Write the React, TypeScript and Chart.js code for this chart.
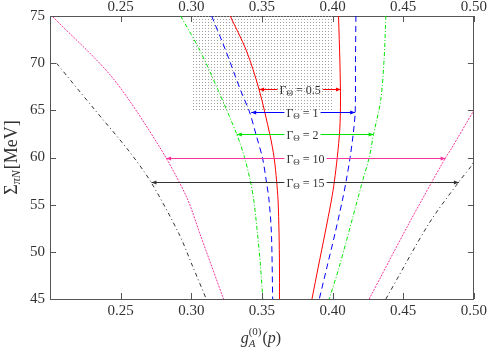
import React, { useEffect, useRef } from 'react';
import { Chart, registerables } from 'chart.js';

Chart.register(...registerables);

// ---------- axis ranges / ticks ----------
const xMin = 0.2;
const xMax = 0.5;
const xStep = 0.05;
const yMin = 45;
const yMax = 75;
const yStep = 5;

// ---------- shaded (dotted) region ----------
const regionX = [0.3, 0.4];
const regionYLow = 65;

// ---------- curves (pairs of bounds for each Γ_Θ) ----------
const redLeftX = [0.3275, 0.3388, 0.348, 0.3558, 0.3586, 0.3604, 0.3614, 0.3621, 0.3624, 0.3624];
const redLeftY = [75, 71.4, 67.2, 62.3, 60, 57.5, 55.5, 52, 48.5, 45];
const redRightX = [0.4042, 0.4052, 0.4056, 0.4051, 0.4033, 0.4013, 0.3992, 0.3947, 0.39, 0.3854];
const redRightY = [75, 70, 66, 63, 60, 57.5, 55.5, 52, 48.5, 45];

const blueLeftX = [0.3144, 0.3242, 0.3348, 0.3412, 0.3461, 0.3504, 0.3532, 0.355, 0.3567, 0.3576];
const blueLeftY = [75, 71.4, 67.16, 64.83, 62.28, 59.95, 57.4, 55.5, 52, 45];
const blueRightX = [0.4165, 0.4162, 0.416, 0.4146, 0.4124, 0.4096, 0.407, 0.4018, 0.3962, 0.3906];
const blueRightY = [75, 70, 64.8, 62.5, 60, 57.5, 55.5, 52, 48.5, 45];

const greenLeftX = [0.2925, 0.3059, 0.3188, 0.3322, 0.3377, 0.3418, 0.3442, 0.3468, 0.349, 0.3506];
const greenLeftY = [75, 71.4, 67.2, 62.45, 60, 57.5, 55.5, 52, 48.5, 45];
const greenRightX = [0.4377, 0.4365, 0.4341, 0.429, 0.4259, 0.4212, 0.4176, 0.4047, 0.3976];
const greenRightY = [75, 70.5, 66.1, 62.45, 60, 57.5, 55.5, 48.4, 45];

const pinkLeftX = [0.2021, 0.2438, 0.2776, 0.2967, 0.3059, 0.3228];
const pinkLeftY = [74.9, 68.53, 61.1, 55.8, 52, 45];
const pinkRightX = [0.4259, 0.4541, 0.48, 0.4835, 0.5];
const pinkRightY = [45, 53.02, 60, 60.8, 65];

const blackLeftX = [0.2047, 0.2318, 0.2553, 0.2713, 0.2911, 0.3006, 0.3106];
const blackLeftY = [69.98, 65.04, 60.79, 57.43, 51.97, 48.6, 45];
const blackRightX = [0.4377, 0.4682, 0.4894, 0.4977, 0.5];
const blackRightY = [45, 53, 57.43, 59, 59.6];

// ---------- Γ_Θ annotations ----------
const gammaLabels = ['0.5', '1', '2', '10', '15'];
const arrowY = [67.23, 64.8, 62.45, 60.0, 57.43];
const arrowLeftX = [0.348, 0.3424, 0.3322, 0.2822, 0.2718];
const arrowRightX = [0.4059, 0.416, 0.429, 0.48, 0.4894];
const labelLeftX = [0.3625, 0.3673, 0.3673, 0.3673, 0.3673];

// ---------- styles ----------
const RED = '#ff0000';
const BLUE = '#0000ff';
const GREEN = '#00e600';
const PINK = '#f5349c';
const BLACK = '#333333';
const arrowColors = [RED, BLUE, GREEN, PINK, BLACK];
const AXIS = '#555555';
const TEXT = '#333333';
const SERIF = '"Liberation Serif", "DejaVu Serif", serif';

const curveDefs = [
  { x: redLeftX, y: redLeftY, color: RED, dash: [] as number[] },
  { x: redRightX, y: redRightY, color: RED, dash: [] as number[] },
  { x: blueLeftX, y: blueLeftY, color: BLUE, dash: [6, 4] },
  { x: blueRightX, y: blueRightY, color: BLUE, dash: [6, 4] },
  { x: greenLeftX, y: greenLeftY, color: GREEN, dash: [4, 2, 1, 2] },
  { x: greenRightX, y: greenRightY, color: GREEN, dash: [4, 2, 1, 2] },
  { x: pinkLeftX, y: pinkLeftY, color: PINK, dash: [2, 1.2] },
  { x: pinkRightX, y: pinkRightY, color: PINK, dash: [2, 1.2] },
  { x: blackLeftX, y: blackLeftY, color: BLACK, dash: [4, 3, 1, 3] },
  { x: blackRightX, y: blackRightY, color: BLACK, dash: [4, 3, 1, 3] },
];

function makePattern(): CanvasPattern | string {
  const c = document.createElement('canvas');
  c.width = 3;
  c.height = 3;
  const g = c.getContext('2d');
  if (!g) return 'rgba(0,0,0,0.1)';
  g.fillStyle = '#a0a0a0';
  g.fillRect(1, 1, 1, 1);
  const p = g.createPattern(c, 'repeat');
  return p || 'rgba(0,0,0,0.1)';
}

const innerTicksPlugin = {
  id: 'innerTicks',
  afterDatasetsDraw(chart: any) {
    const { ctx, chartArea } = chart;
    const xs = chart.scales.x;
    const ys = chart.scales.y;
    const L = 6;
    ctx.save();
    ctx.strokeStyle = AXIS;
    ctx.lineWidth = 1;
    ctx.setLineDash([]);
    ctx.beginPath();
    xs.ticks.forEach((t: any) => {
      const px = Math.round(xs.getPixelForValue(t.value)) + 0.5;
      ctx.moveTo(px, chartArea.bottom);
      ctx.lineTo(px, chartArea.bottom - L);
      ctx.moveTo(px, chartArea.top);
      ctx.lineTo(px, chartArea.top + L);
    });
    ys.ticks.forEach((t: any) => {
      const py = Math.round(ys.getPixelForValue(t.value)) + 0.5;
      ctx.moveTo(chartArea.left, py);
      ctx.lineTo(chartArea.left + L, py);
      ctx.moveTo(chartArea.right, py);
      ctx.lineTo(chartArea.right - L, py);
    });
    ctx.stroke();
    ctx.restore();
  },
};

const annotationPlugin = {
  id: 'gammaAnnotations',
  afterDatasetsDraw(chart: any) {
    const { ctx } = chart;
    const xs = chart.scales.x;
    const ys = chart.scales.y;
    const big = `12px ${SERIF}`;
    const small = `9px ${SERIF}`;
    ctx.save();
    ctx.setLineDash([]);
    for (let i = 0; i < gammaLabels.length; i++) {
      const color = arrowColors[i];
      const yy = Math.round(ys.getPixelForValue(arrowY[i])) + 0.5;
      const xl = xs.getPixelForValue(arrowLeftX[i]);
      const xr = xs.getPixelForValue(arrowRightX[i]);
      const tx = xs.getPixelForValue(labelLeftX[i]);
      ctx.font = big;
      const wG = ctx.measureText('Γ').width;
      ctx.font = small;
      const wT = ctx.measureText('Θ').width;
      ctx.font = big;
      const rest = ' = ' + gammaLabels[i];
      const wR = ctx.measureText(rest).width;
      const tw = wG + wT + wR;
      ctx.strokeStyle = color;
      ctx.fillStyle = color;
      ctx.lineWidth = 1;
      ctx.beginPath();
      ctx.moveTo(xl, yy);
      ctx.lineTo(tx - 2, yy);
      ctx.moveTo(tx + tw + 2, yy);
      ctx.lineTo(xr, yy);
      ctx.stroke();
      ctx.beginPath();
      ctx.moveTo(xl, yy);
      ctx.lineTo(xl + 5, yy - 2);
      ctx.lineTo(xl + 5, yy + 2);
      ctx.closePath();
      ctx.fill();
      ctx.beginPath();
      ctx.moveTo(xr, yy);
      ctx.lineTo(xr - 5, yy - 2);
      ctx.lineTo(xr - 5, yy + 2);
      ctx.closePath();
      ctx.fill();
      ctx.fillStyle = TEXT;
      ctx.textBaseline = 'alphabetic';
      ctx.textAlign = 'left';
      const base = yy + 4;
      ctx.font = big;
      ctx.fillText('Γ', tx, base);
      ctx.font = small;
      ctx.fillText('Θ', tx + wG, base + 2);
      ctx.font = big;
      ctx.fillText(rest, tx + wG + wT, base);
    }
    ctx.restore();
  },
  afterDraw(chart: any) {
    const { ctx, chartArea } = chart;
    ctx.save();
    ctx.fillStyle = TEXT;
    ctx.textBaseline = 'alphabetic';
    ctx.textAlign = 'left';
    // x-axis title: g_A^(0)(p)
    const fBig = `16px ${SERIF}`;
    const fBigI = `italic 16px ${SERIF}`;
    const fSm = `11px ${SERIF}`;
    const fSmI = `italic 11px ${SERIF}`;
    ctx.font = fBigI;
    const wg = ctx.measureText('g').width;
    ctx.font = fSmI;
    const wA = ctx.measureText('A').width;
    ctx.font = fSm;
    const w0 = ctx.measureText('(0)').width;
    const wS = Math.max(wA, w0);
    ctx.font = fBig;
    const wpo = ctx.measureText('(').width;
    const wpc = ctx.measureText(')').width;
    ctx.font = fBigI;
    const wp = ctx.measureText('p').width;
    const total = wg + wS + 1 + wpo + wp + wpc;
    let cx = (chartArea.left + chartArea.right) / 2 - total / 2 - 1;
    const by = 343;
    ctx.font = fBigI;
    ctx.fillText('g', cx, by);
    cx += wg;
    ctx.font = fSmI;
    ctx.fillText('A', cx, by + 4);
    ctx.font = fSm;
    ctx.fillText('(0)', cx, by - 8);
    cx += wS + 1;
    ctx.font = fBig;
    ctx.fillText('(', cx, by);
    cx += wpo;
    ctx.font = fBigI;
    ctx.fillText('p', cx, by);
    cx += wp;
    ctx.font = fBig;
    ctx.fillText(')', cx, by);

    // y-axis title: Σ_πN [MeV]
    const yBig = `18px ${SERIF}`;
    const ySmI = `italic 12px ${SERIF}`;
    ctx.translate(17, (chartArea.top + chartArea.bottom) / 2);
    ctx.rotate(-Math.PI / 2);
    ctx.font = yBig;
    const wSig = ctx.measureText('Σ').width;
    ctx.font = ySmI;
    const wpiN = ctx.measureText('πN').width;
    ctx.font = yBig;
    const wMeV = ctx.measureText('[MeV]').width;
    const tot = wSig + wpiN + 1 + wMeV;
    let px = -tot / 2;
    ctx.font = yBig;
    ctx.fillText('Σ', px, 0);
    px += wSig;
    ctx.font = ySmI;
    ctx.fillText('πN', px, 3);
    px += wpiN + 1;
    ctx.font = yBig;
    ctx.fillText('[MeV]', px, 0);
    ctx.restore();
  },
};

export default function App() {
  const ref = useRef<HTMLCanvasElement | null>(null);

  useEffect(() => {
    if (!ref.current) return;
    const pattern = makePattern();
    const datasets: any[] = curveDefs.map((c) => ({
      type: 'line',
      data: c.x.map((v, i) => ({ x: v, y: c.y[i] })),
      borderColor: c.color,
      borderWidth: 1,
      borderDash: c.dash,
      pointRadius: 0,
      tension: 0.3,
      fill: false,
      order: 0,
    }));
    datasets.push({
      type: 'line',
      data: regionX.map((v) => ({ x: v, y: regionYLow })),
      borderWidth: 0,
      borderColor: 'rgba(0,0,0,0)',
      backgroundColor: pattern,
      pointRadius: 0,
      fill: 'end',
      order: 10,
    });

    const tickFont = { family: SERIF, size: 15 };
    const fixedSize = (size: number, horizontal: boolean) => (scale: any) => {
      if (horizontal) scale.height = size;
      else scale.width = size;
    };
    const xLabel = (v: any) => (Math.abs(Number(v) - xMin) < 1e-9 ? '' : Number(v).toFixed(2));

    const chart = new Chart(ref.current, {
      type: 'scatter',
      data: { datasets },
      plugins: [innerTicksPlugin, annotationPlugin],
      options: {
        responsive: false,
        animation: false,
        devicePixelRatio: 1,
        layout: { padding: 0 },
        plugins: {
          legend: { display: false },
          tooltip: { enabled: false },
        },
        scales: {
          x: {
            type: 'linear',
            position: 'bottom',
            min: xMin,
            max: xMax,
            afterFit: fixedSize(49, true),
            ticks: { stepSize: xStep, font: tickFont, color: TEXT, padding: 3, maxRotation: 0, callback: xLabel },
            grid: { display: true, drawOnChartArea: false, drawTicks: false },
            border: { display: true, color: AXIS, width: 1 },
          },
          x2: {
            type: 'linear',
            position: 'top',
            min: xMin,
            max: xMax,
            afterFit: fixedSize(16, true),
            ticks: { stepSize: xStep, font: tickFont, color: TEXT, padding: 0, maxRotation: 0, callback: xLabel },
            grid: { display: true, drawOnChartArea: false, drawTicks: false },
            border: { display: true, color: AXIS, width: 1 },
          },
          y: {
            type: 'linear',
            position: 'left',
            min: yMin,
            max: yMax,
            afterFit: fixedSize(50, false),
            ticks: { stepSize: yStep, font: tickFont, color: TEXT, padding: 5 },
            grid: { display: true, drawOnChartArea: false, drawTicks: false },
            border: { display: true, color: AXIS, width: 1 },
          },
          y2: {
            type: 'linear',
            position: 'right',
            min: yMin,
            max: yMax,
            afterFit: fixedSize(15, false),
            ticks: { stepSize: yStep, display: false },
            grid: { display: true, drawOnChartArea: false, drawTicks: false },
            border: { display: true, color: AXIS, width: 1 },
          },
        },
      },
    } as any);
    return () => chart.destroy();
  }, []);

  return (
    <div style={{ position: 'absolute', left: 0, top: 0, width: 490, height: 348, background: '#fff' }}>
      <canvas ref={ref} width={490} height={348} style={{ display: 'block', width: 490, height: 348 }} />
    </div>
  );
}
